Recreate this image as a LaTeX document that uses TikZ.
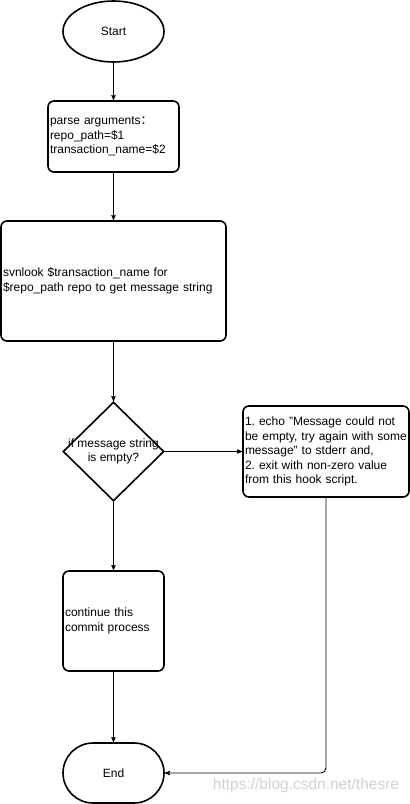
\documentclass[tikz,border=0pt]{standalone}
\usepackage{fontspec}
\setmainfont{Liberation Sans}
\newfontfamily\cjkfont{Noto Sans CJK SC}
\frenchspacing
\usetikzlibrary{arrows}
\usetikzlibrary{shapes.geometric}

\tikzset{
  txt/.style={font=\fontsize{12}{14.5}\selectfont},
  startstop/.style={draw, line width=1.6pt, txt, inner sep=0},
  procbox/.style={draw, line width=1.6pt, rounded corners=6pt, txt, align=left,
    inner sep=2pt, anchor=center},
  decision/.style={draw, diamond, line width=1.6pt, inner sep=0, aspect=1.02,
    minimum width=101pt, minimum height=99pt},
  flow/.style={black, line width=0.9pt, ->, >=stealth'}
}

\begin{document}
\begin{tikzpicture}[x=1pt,y=-1pt]
\useasboundingbox (0,0) rectangle (410,804);
\node[startstop, ellipse, minimum width=101pt, minimum height=61pt] (start) at (113.5,31.5) {Start};
\node[procbox, minimum width=131pt, minimum height=71pt, text width=127pt] (parse) at (113.5,136.5)
  {parse arguments{\cjkfont ：}\\repo\_path=\$1\\transaction\_name=\$2};
\node[procbox, minimum width=225pt, minimum height=120pt, text width=221pt] (look) at (113.5,281)
  {svnlook \$transaction\_name for\\\$repo\_path repo to get message string};
\node[decision] (chk) at (113.5,451.5) {};
\node[txt, align=center, inner sep=0] (chktxt) at (chk) {if message string\\is empty?};
\node[procbox, minimum width=166pt, minimum height=91pt, text width=162pt] (err) at (326,451.5)
  {1. echo "Message could not\\be empty, try again with some\\message" to stderr and,\\2. exit with non-zero value\\from this hook script.};
\node[procbox, minimum width=101pt, minimum height=100pt, text width=97pt] (cont) at (113.5,621)
  {continue this\\commit process};
\node[startstop, rectangle, rounded corners=30pt, minimum width=101pt, minimum height=60pt] (endn) at (113.5,773) {End};
\node[txt, font=\fontsize{15.5}{15.5}\selectfont, text=black!18] (mark) at (306,785) {https://blog.csdn.net/thesre};

\draw[flow] (start) -- (parse);
\draw[flow] (parse) -- (look);
\draw[flow] (look) -- (chk);
\draw[flow] (chk.east) -- (chk.east -| err.west);
\draw[flow] (chk) -- (cont);
\draw[flow] (cont) -- (endn);
\draw[flow, rounded corners=5pt] (err.south) -- (err.south |- endn) -- (endn.east);
\end{tikzpicture}
\end{document}
